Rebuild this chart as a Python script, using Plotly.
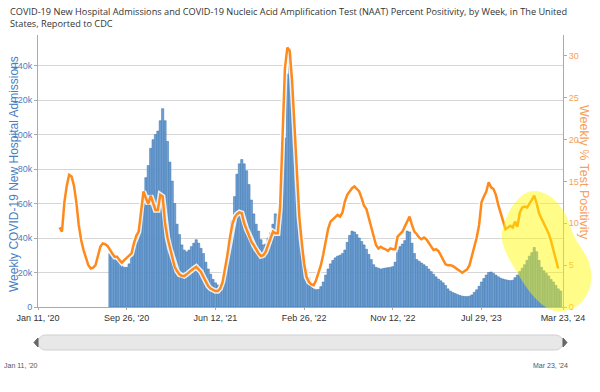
import pandas as pd
import plotly.graph_objects as go

# ---------------- data ----------------
week_start = "2020-01-11"
n_weeks = 220
weeks = pd.date_range(week_start, periods=n_weeks, freq="7D")

# Weekly % test positivity, weeks 9..217
pos_first_week = 9
positivity = [
    9.5, 9.0, 12.5, 14.5, 15.8, 15.6, 14.5, 12.5, 9.8, 8.0,
    6.8, 5.8, 5.0, 4.6, 4.7, 5.0, 6.3, 7.2, 7.6, 7.5,
    7.3, 6.8, 6.4, 6.0, 6.0, 5.6, 5.3, 5.6, 5.9, 6.1,
    6.4, 7.6, 8.5, 9.0, 11.6, 13.8, 13.0, 12.3, 13.3, 12.4,
    11.6, 11.6, 13.4, 13.2, 10.0, 8.3, 7.0, 5.9, 4.8, 4.3,
    3.9, 3.7, 3.7, 3.9, 4.2, 4.4, 4.6, 4.8, 4.5, 4.2,
    3.6, 3.0, 2.5, 2.2, 2.0, 1.9, 1.9, 2.2, 3.0, 4.5,
    6.2, 8.2, 9.8, 10.7, 11.1, 11.3, 11.2, 10.0, 9.3, 8.7,
    7.8, 7.4, 6.9, 6.4, 6.1, 6.2, 6.6, 7.4, 8.2, 9.0,
    8.8, 8.8, 12.0, 20.0, 28.5, 31.0, 30.6, 27.0, 21.0, 15.5,
    10.8, 7.8, 5.2, 3.6, 3.0, 2.7, 2.6, 3.2, 4.0, 5.0,
    6.3, 7.9, 9.3, 10.2, 10.5, 10.7, 11.0, 10.8, 11.3, 12.6,
    13.4, 13.8, 14.2, 14.4, 14.1, 13.8, 13.0, 12.1, 11.7, 10.6,
    9.6, 8.4, 7.4, 7.0, 7.2, 7.0, 6.9, 6.7, 7.0, 6.9,
    6.9, 8.4, 8.7, 9.0, 9.6, 10.2, 10.8, 9.8, 9.0, 8.7,
    8.3, 8.1, 8.3, 8.1, 7.7, 7.3, 6.8, 6.9, 6.7, 6.2,
    5.7, 5.1, 5.0, 5.0, 4.9, 4.7, 4.6, 4.3, 4.1, 4.3,
    4.5, 5.0, 6.0, 7.2, 8.3, 9.8, 12.5, 13.2, 13.8, 14.9,
    14.3, 14.1, 13.4, 12.2, 11.2, 10.0, 9.3, 9.5, 9.7, 9.5,
    10.2, 9.6, 11.3, 11.9, 12.0, 11.9, 12.3, 12.8, 13.3, 12.4,
    11.2, 10.6, 10.2, 9.4, 8.8, 7.9, 6.8, 5.7, 4.6,
]

# Weekly new hospital admissions, weeks 30..218
adm_first_week = 30
admissions = [
    31000, 30000, 29000, 27000, 26000, 24000, 23000, 23000, 25000, 29000,
    34000, 40000, 45000, 54000, 66000, 75000, 82000, 92000, 97000, 100000,
    102000, 108000, 115000, 108000, 96000, 84000, 73000, 60000, 48000, 42000,
    36000, 33000, 32000, 33000, 35000, 37000, 39000, 37000, 34000, 31000,
    26000, 22000, 19000, 16000, 14000, 12800, 12200, 14500, 20000, 32000,
    40000, 50000, 64000, 77000, 83000, 85500, 83000, 79000, 71000, 62000,
    54000, 48000, 44000, 39000, 36000, 36500, 40000, 43000, 48000, 54000,
    54000, 60000, 80000, 98000, 135000, 150000, 125000, 97000, 71000, 50000,
    38000, 30000, 22000, 17000, 13500, 11000, 10000, 10200, 11800, 14500,
    18500, 22000, 25000, 27000, 28500, 29500, 30000, 31000, 33000, 37500,
    41500, 44000, 43500, 42000, 40000, 38000, 36000, 33500, 30500, 27500,
    24500, 23000, 22500, 22000, 22300, 22600, 22800, 23000, 23400, 26000,
    33000, 35000, 36500, 38500, 44000, 43500, 37000, 31000, 27500, 26500,
    25500, 24500, 23500, 22000, 20500, 19000, 17500, 16200, 15200, 14000,
    12500, 10500, 9200, 8400, 7800, 7200, 6700, 6300, 6100, 6000,
    6300, 7000, 8500, 10000, 12000, 14500, 16500, 18500, 20000, 20300,
    19500, 18500, 17500, 16700, 16200, 15800, 15500, 15300, 15500, 17000,
    18500, 20500, 22500, 24500, 27000, 29500, 31500, 34500, 32000, 27000,
    23000, 21000, 19500, 18000, 16000, 14500, 12500, 10500, 9300,
]

x_tick_weeks = [0, 37, 74, 111, 148, 185, 219]
x_tick_labels = ["Jan 11, '20", "Sep 26, '20", "Jun 12, '21", "Feb 26, '22",
                 "Nov 12, '22", "Jul 29, '23", "Mar 23, '24"]
left_ticks = [0, 20000, 40000, 60000, 80000, 100000, 120000, 140000]
left_tick_labels = ["0", "20k", "40k", "60k", "80k", "100k", "120k", "140k"]
right_ticks = [0, 5, 10, 15, 20, 25, 30]

title_text = ("COVID-19 New Hospital Admissions and COVID-19 Nucleic Acid Amplification Test "
              "(NAAT) Percent Positivity, by Week, in The United<br>States, Reported to CDC")

# ---------------- styling ----------------
W, H = 600, 392
ML, MR, MT, MB = 38, 37, 35, 85
PW, PH = W - ML - MR, H - MT - MB

BLUE_TXT = "#4a7fbf"
ORANGE = "#ff8a1c"
ORANGE_TXT = "#f7a05c"
FONT = "Liberation Sans, Arial"


def px(xp, yp):
    """pixel -> paper coordinates"""
    return (xp - ML) / PW, (H - MB - yp) / PH


adm_x = weeks[adm_first_week:adm_first_week + len(admissions)]
pos_x = weeks[pos_first_week:pos_first_week + len(positivity)]

fig = go.Figure()
fig.add_trace(go.Bar(
    x=adm_x, y=admissions, yaxis="y",
    marker=dict(color="#6f9fd3", line=dict(color="#3470ab", width=0.5)),
    hoverinfo="skip", showlegend=False,
))
fig.add_trace(go.Scatter(
    x=pos_x, y=positivity, yaxis="y2", mode="lines",
    line=dict(color="rgba(255,255,255,0.85)", width=5.5),
    hoverinfo="skip", showlegend=False,
))
fig.add_trace(go.Scatter(
    x=pos_x, y=positivity, yaxis="y2", mode="lines",
    line=dict(color=ORANGE, width=2.5),
    showlegend=False,
))

# ---- yellow highlight blob (catmull-rom closed curve) ----
blob_px = [(502, 240), (510, 210), (528, 192), (548, 195), (564, 212),
           (575, 238), (589, 262), (590, 287), (577, 306), (556, 311),
           (537, 300), (518, 274)]
pts = [px(a, b) for a, b in blob_px]
n = len(pts)
path = "M %.5f %.5f" % pts[0]
for i in range(n):
    p0, p1, p2, p3 = pts[i - 1], pts[i], pts[(i + 1) % n], pts[(i + 2) % n]
    c1 = (p1[0] + (p2[0] - p0[0]) / 6, p1[1] + (p2[1] - p0[1]) / 6)
    c2 = (p2[0] - (p3[0] - p1[0]) / 6, p2[1] - (p3[1] - p1[1]) / 6)
    path += " C %.5f %.5f, %.5f %.5f, %.5f %.5f" % (c1 + c2 + p2)
path += " Z"

shapes = [dict(type="path", xref="paper", yref="paper", path=path,
               fillcolor="rgba(255,250,0,0.47)", line=dict(width=0), layer="above")]


# ---- fake navigator scrollbar ----
def pill(x0, x1, y0, y1):
    r = (y1 - y0) / 2.0
    k = 0.5523 * r
    segs = ["M %.5f %.5f" % px(x0 + r, y0), "L %.5f %.5f" % px(x1 - r, y0)]
    segs.append("C %.5f %.5f, %.5f %.5f, %.5f %.5f" % (px(x1 - r + k, y0) + px(x1, y0 + r - k) + px(x1, y0 + r)))
    segs.append("C %.5f %.5f, %.5f %.5f, %.5f %.5f" % (px(x1, y0 + r + k) + px(x1 - r + k, y1) + px(x1 - r, y1)))
    segs.append("L %.5f %.5f" % px(x0 + r, y1))
    segs.append("C %.5f %.5f, %.5f %.5f, %.5f %.5f" % (px(x0 + r - k, y1) + px(x0, y0 + r + k) + px(x0, y0 + r)))
    segs.append("C %.5f %.5f, %.5f %.5f, %.5f %.5f" % (px(x0, y0 + r - k) + px(x0 + r - k, y0) + px(x0 + r, y0)))
    return " ".join(segs) + " Z"


shapes.append(dict(type="path", xref="paper", yref="paper", path=pill(38, 563, 335, 350),
                   fillcolor="#e8e8e8", line=dict(color="#d0d0d0", width=1), layer="above"))
for hx, d in ((36, -1), (565, 1)):
    a = px(hx - 2 * d, 338)
    b = px(hx + 2 * d, 342.5)
    c = px(hx - 2 * d, 347)
    shapes.append(dict(type="path", xref="paper", yref="paper",
                       path="M %.5f %.5f L %.5f %.5f L %.5f %.5f Z" % (a + b + c),
                       fillcolor="#666666", line=dict(color="#666666", width=1), layer="above"))

annotations = [
    dict(text=title_text, xref="paper", yref="paper", x=px(8, 0)[0], y=px(0, 3)[1],
         xanchor="left", yanchor="top", align="left", showarrow=False,
         font=dict(size=9.2, color="#333", family="Open Sans")),
    dict(text="Weekly COVID-19 New Hospital Admissions", textangle=-90,
         xref="paper", yref="paper", x=px(14, 0)[0], y=px(0, 174)[1],
         xanchor="center", yanchor="middle",
         showarrow=False, font=dict(size=12, color=BLUE_TXT, family=FONT)),
    dict(text="Weekly % Test Positivity", textangle=90,
         xref="paper", yref="paper", x=px(584, 0)[0], y=px(0, 172)[1],
         xanchor="center", yanchor="middle",
         showarrow=False, font=dict(size=12.5, color=ORANGE_TXT, family=FONT)),
    dict(text=x_tick_labels[0], xref="paper", yref="paper", x=px(21, 0)[0], y=px(0, 365)[1],
         xanchor="center", yanchor="middle",
         showarrow=False, font=dict(size=7, color="#555", family=FONT)),
    dict(text=x_tick_labels[-1], xref="paper", yref="paper", x=px(550, 0)[0], y=px(0, 365)[1],
         xanchor="center", yanchor="middle",
         showarrow=False, font=dict(size=7, color="#555", family=FONT)),
]

fig.update_layout(
    width=W, height=H,
    margin=dict(l=ML, r=MR, t=MT, b=MB),
    paper_bgcolor="white", plot_bgcolor="white",
    bargap=0.08,
    xaxis=dict(type="date", range=[weeks[0], weeks[-1]],
               tickvals=[weeks[i] for i in x_tick_weeks], ticktext=x_tick_labels,
               showgrid=False, showline=True, linecolor="#aaaaaa", linewidth=1,
               ticks="outside", ticklen=2, tickcolor="#aaaaaa",
               tickfont=dict(size=9, color="#333", family=FONT)),
    yaxis=dict(range=[0, 157700], tickvals=left_ticks, ticktext=left_tick_labels,
               showgrid=True, gridcolor="#d6d6d6", gridwidth=1, zeroline=False,
               showline=True, linecolor="#aaaaaa", ticks="outside", ticklen=3, tickcolor="#aaaaaa",
               tickfont=dict(size=9, color=BLUE_TXT, family=FONT)),
    yaxis2=dict(range=[0, 32.5], tickvals=right_ticks, overlaying="y", side="right",
                showgrid=False, zeroline=False, showline=True, linecolor="#aaaaaa",
                ticks="outside", ticklen=3, tickcolor="#aaaaaa",
                tickfont=dict(size=9, color=ORANGE_TXT, family=FONT)),
    shapes=shapes, annotations=annotations, showlegend=False,
)

fig.write_html("out.html", config={"displayModeBar": False, "staticPlot": True},
               post_script="document.body.style.margin='0';")
